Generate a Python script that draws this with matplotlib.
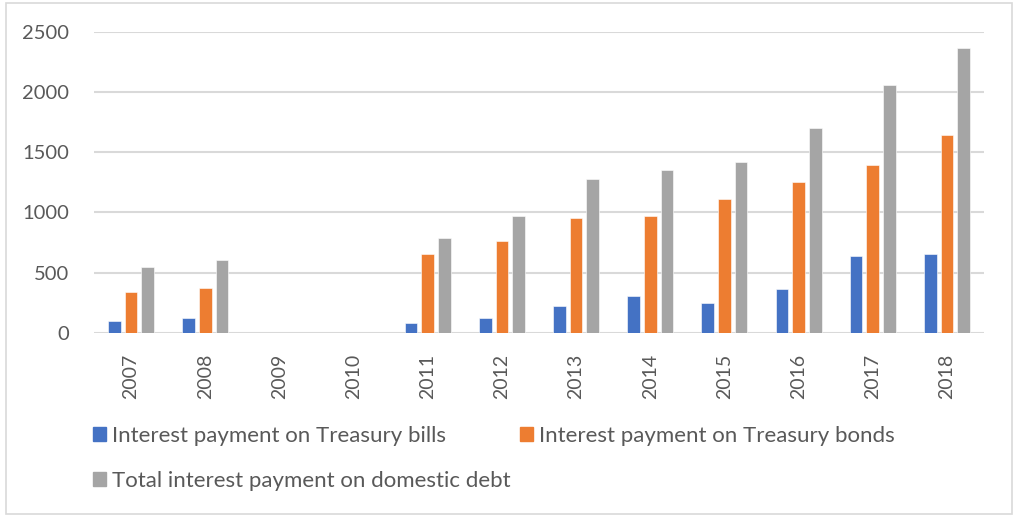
import matplotlib
matplotlib.use("Agg")
import matplotlib.pyplot as plt
import matplotlib.patches as mpatches
import numpy as np

years = ["2007", "2008", "2009", "2010", "2011", "2012", "2013", "2014",
         "2015", "2016", "2017", "2018"]
treasury_bills = [97, 119, 0, 0, 78, 122, 221, 302, 247, 363, 637, 653]
treasury_bonds = [335, 368, 0, 0, 650, 764, 952, 968, 1107, 1251, 1395, 1641]
total_domestic = [545, 603, 0, 0, 786, 968, 1276, 1350, 1419, 1702, 2056, 2361]

series_names = ["Interest payment on Treasury bills",
                "Interest payment on Treasury bonds",
                "Total interest payment on domestic debt"]
colors = ["#4472C4", "#ED7D31", "#A5A5A5"]
y_ticks = [0, 500, 1000, 1500, 2000, 2500]

plt.rcParams["font.family"] = ["Lato", "DejaVu Sans"]
text_color = "#595959"
grid_color = "#D9D9D9"

W, H = 1013, 516
fig = plt.figure(figsize=(W / 100, H / 100), dpi=100)

# plot area in pixel coordinates
left, right, top, bottom = 94, 984, 31.7, 332.7
ax = fig.add_axes([left / W, 1 - bottom / H, (right - left) / W, (bottom - top) / H])

x = np.arange(len(years))
bar_w = 0.172
step = 0.225
for i, (vals, c) in enumerate(zip([treasury_bills, treasury_bonds, total_domestic], colors)):
    ax.bar(x + (i - 1) * step, vals, width=bar_w, color=c, zorder=3,
           edgecolor="white", linewidth=0.4)

ax.set_xlim(-0.5, len(years) - 0.5)
ax.set_ylim(0, 2500)
ax.set_yticks(y_ticks)
ax.set_yticklabels([str(v) for v in y_ticks])
ax.set_xticks(x)
ax.set_xticklabels(years, rotation=90)
ax.tick_params(axis="both", length=0, colors=text_color)
ax.tick_params(axis="y", pad=18, labelsize=14.5)
ax.tick_params(axis="x", pad=15, labelsize=14)
ax.grid(axis="y", color=grid_color, linewidth=1.5, zorder=0)
for s in ax.spines.values():
    s.set_visible(False)

# legend entries: two on the first row, one on the second
handles = [mpatches.Patch(color=c) for c in colors]
legend_pos = [(93, 436), (520, 436), (93, 481)]
for h, name, (px, py) in zip(handles, series_names, legend_pos):
    leg = fig.legend([h], [name], loc="center left",
                     bbox_to_anchor=(px / W, 1 - py / H), frameon=False,
                     fontsize=16, handlelength=0.6, handleheight=0.6,
                     handletextpad=0.25, labelcolor=text_color,
                     borderaxespad=0, borderpad=0)

# thin frame around the chart
fig.add_artist(mpatches.Rectangle((5.5 / W, 2.5 / H), (1011.5 - 5.5) / W, (513.5 - 2.5) / H,
                                  transform=fig.transFigure, fill=False,
                                  edgecolor=grid_color, linewidth=1.2))

fig.savefig("out.png", dpi=100)
